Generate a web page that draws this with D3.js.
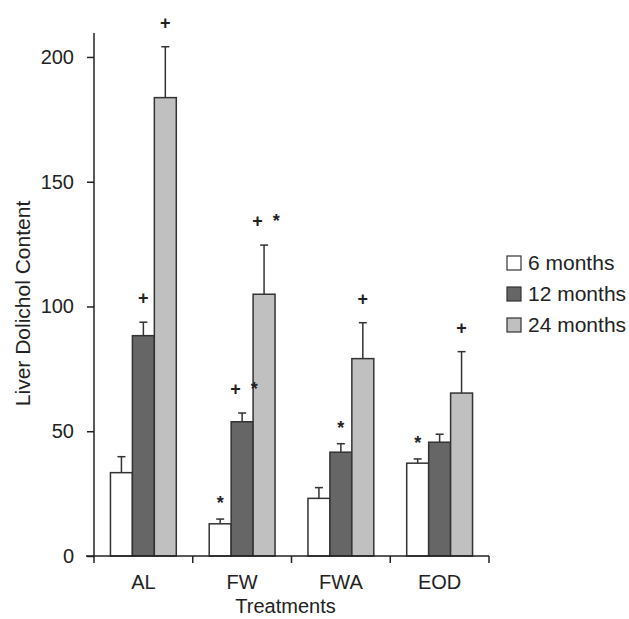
<!DOCTYPE html>
<html>
<head>
<meta charset="utf-8">
<script src="https://cdn.jsdelivr.net/npm/d3@7"></script>
<style>
  body { margin: 0; background: #fff; }
  text { font-family: "Liberation Sans", Arial, sans-serif; fill: #222; }
  .axis path, .axis line { stroke: #222; stroke-width: 1.5; }
  .axis text { font-size: 20px; }
</style>
</head>
<body>
<svg class="chart"></svg>
<script>
var treatments = ["AL", "FW", "FWA", "EOD"];
var series = ["6 months", "12 months", "24 months"];
var means = [
  [33.4, 88.3, 183.7],
  [12.9, 53.8, 104.9],
  [23.1, 41.6, 79.1],
  [37.2, 45.6, 65.3]
];
var errTops = [
  [39.8, 93.7, 204.1],
  [14.8, 57.3, 124.6],
  [27.4, 45.0, 93.5],
  [38.9, 48.8, 81.9]
];
var marks = [
  ["", "+", "+"],
  ["*", "+ *", "+ *"],
  ["", "*", "+"],
  ["*", "", "+"]
];
var yTicks = [0, 50, 100, 150, 200];
var colors = ["#ffffff", "#666666", "#c0c0c0"];

(function () {
  var margin = {top: 33, right: 140, bottom: 63, left: 94};
  var width = 629 - margin.left - margin.right;
  var height = 619 - margin.top - margin.bottom;

  var svg = d3.select(".chart")
      .attr("width", 629)
      .attr("height", 619);
  var vis = svg.append("g")
      .attr("transform", "translate(" + margin.left + "," + margin.top + ")");

  var x0 = d3.scaleBand()
    .domain(treatments)
    .range([0, width])
    .paddingInner(1 / 3)
    .paddingOuter(1 / 6);
  var x1 = d3.scaleBand()
    .domain(series)
    .range([0, x0.bandwidth()]);
  var y = d3.scaleLinear()
    .domain([0, 209.6])
    .range([height, 0]);

  // bars
  var groups = vis.selectAll("g.group")
    .data(treatments)
    .enter().append("g")
      .attr("class", "group")
      .attr("transform", function(d) { return "translate(" + x0(d) + ",0)"; });

  groups.each(function(t, i) {
    var g = d3.select(this);
    var rows = series.map(function(s, j) {
      return {s: s, v: means[i][j], e: errTops[i][j], m: marks[i][j], c: colors[j]};
    });

    // error bars drawn first so bar outline sits on top
    g.selectAll("line.err")
      .data(rows)
      .enter().append("line")
        .attr("class", "err")
        .attr("x1", function(d) { return x1(d.s) + x1.bandwidth() / 2; })
        .attr("x2", function(d) { return x1(d.s) + x1.bandwidth() / 2; })
        .attr("y1", function(d) { return y(d.v); })
        .attr("y2", function(d) { return y(d.e); })
        .style("stroke", "#333")
        .style("stroke-width", 1.5);
    g.selectAll("line.cap")
      .data(rows)
      .enter().append("line")
        .attr("class", "cap")
        .attr("x1", function(d) { return x1(d.s) + x1.bandwidth() / 2 - 4; })
        .attr("x2", function(d) { return x1(d.s) + x1.bandwidth() / 2 + 4; })
        .attr("y1", function(d) { return y(d.e); })
        .attr("y2", function(d) { return y(d.e); })
        .style("stroke", "#333")
        .style("stroke-width", 1.5);

    g.selectAll("rect")
      .data(rows)
      .enter().append("rect")
        .attr("x", function(d) { return x1(d.s); })
        .attr("y", function(d) { return y(d.v); })
        .attr("width", x1.bandwidth())
        .attr("height", function(d) { return height - y(d.v); })
        .style("fill", function(d) { return d.c; })
        .style("stroke", "#333")
        .style("stroke-width", 1.5);

    g.selectAll("text.mark")
      .data(rows.filter(function(d) { return d.m; }))
      .enter().append("text")
        .attr("class", "mark")
        .attr("x", function(d) { return x1(d.s) + x1.bandwidth() / 2 + (d.m.length > 1 ? 2 : 0); })
        .attr("y", function(d) { return y(d.e) - (d.m === "*" ? 10 : 18); })
        .attr("text-anchor", "middle")
        .style("font-size", "18px")
        .style("font-weight", "bold")
        .style("white-space", "pre")
        .text(function(d) { return d.m.replace(" ", "\u00a0\u00a0"); });
  });

  // axes
  var xaxis = d3.axisBottom(x0).tickSize(0).tickPadding(19);
  var xg = vis.append("g")
    .attr("class", "axis")
    .attr("transform", "translate(0," + height + ")")
    .call(xaxis);
  xg.select(".domain").attr("d", "M-8,0H" + width);
  // boundary ticks between groups
  xg.selectAll("line.sep")
    .data(d3.range(treatments.length + 1))
    .enter().append("line")
      .attr("class", "sep")
      .attr("x1", function(k) { return k * x0.step(); })
      .attr("x2", function(k) { return k * x0.step(); })
      .attr("y1", 0)
      .attr("y2", 7);

  var yaxis = d3.axisLeft(y).tickValues(yTicks).tickSize(7).tickPadding(13).tickSizeOuter(0);
  var yg = vis.append("g")
    .attr("class", "axis")
    .call(yaxis);
  yg.select(".domain").attr("d", "M0,0V" + height);

  vis.append("text")
    .attr("x", width / 2 - 6)
    .attr("y", height + 57)
    .attr("text-anchor", "middle")
    .style("font-size", "20px")
    .text("Treatments");

  vis.append("text")
    .attr("transform", "translate(-64," + (height / 2 + 9) + ") rotate(-90)")
    .attr("text-anchor", "middle")
    .style("font-size", "21px")
    .text("Liver Dolichol Content");

  // legend
  var legend = svg.append("g")
    .attr("transform", "translate(507,256)");
  var items = legend.selectAll("g")
    .data(series)
    .enter().append("g")
      .attr("transform", function(d, i) { return "translate(0," + (i * 31) + ")"; });
  items.append("rect")
    .attr("width", 14)
    .attr("height", 14)
    .style("fill", function(d, i) { return colors[i]; })
    .style("stroke", "#333")
    .style("stroke-width", 1.2);
  items.append("text")
    .attr("x", 21)
    .attr("y", 14)
    .style("font-size", "21px")
    .text(function(d) { return d; });
})();
</script>
</body>
</html>
